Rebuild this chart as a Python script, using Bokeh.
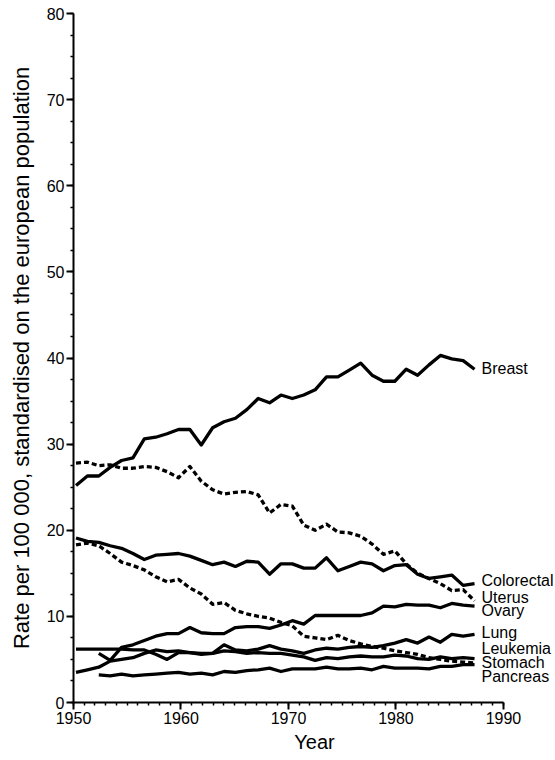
from bokeh.plotting import figure
from bokeh.models import Range1d, ColumnDataSource, LabelSet, FixedTicker, LinearAxis
from bokeh.core.properties import value
from bokeh.embed import file_html
from bokeh.resources import INLINE

# ---- data ----
years = list(range(1950, 1986))
years_1952 = list(range(1952, 1986))

breast = [25.2, 26.3, 26.3, 27.3, 28.1, 28.4, 30.6, 30.8, 31.2, 31.7,
          31.7, 29.9, 31.9, 32.6, 33.0, 34.0, 35.3, 34.8, 35.7, 35.3,
          35.7, 36.3, 37.8, 37.8, 38.6, 39.4, 38.0, 37.3, 37.3, 38.7,
          38.0, 39.2, 40.3, 39.9, 39.7, 38.7]
uterus = [27.8, 27.9, 27.5, 27.6, 27.2, 27.2, 27.4, 27.3, 26.8, 26.1,
          27.4, 25.7, 24.7, 24.2, 24.4, 24.5, 24.1, 22.0, 23.0, 22.8,
          20.6, 20.0, 20.7, 19.8, 19.7, 19.3, 18.4, 17.2, 17.6, 16.1,
          15.0, 14.4, 13.8, 13.0, 13.1, 11.8]
colorectal = [19.1, 18.7, 18.6, 18.2, 17.9, 17.3, 16.6, 17.1, 17.2, 17.3,
              17.0, 16.5, 16.0, 16.3, 15.8, 16.4, 16.3, 14.9, 16.1, 16.1,
              15.6, 15.6, 16.8, 15.3, 15.8, 16.3, 16.1, 15.3, 15.9, 16.0,
              14.9, 14.4, 14.6, 14.8, 13.6, 13.8]
stomach = [18.3, 18.5, 18.2, 17.3, 16.3, 15.9, 15.4, 14.6, 14.0, 14.3,
           13.3, 12.6, 11.4, 11.6, 10.7, 10.3, 10.0, 9.8, 9.3, 8.9,
           7.7, 7.5, 7.3, 7.8, 7.2, 6.8, 6.5, 6.3, 6.0, 5.8,
           5.6, 5.2, 5.0, 4.8, 4.7, 4.6]
lung = [3.5, 3.8, 4.1, 4.8, 5.0, 5.2, 5.7, 6.1, 5.9, 6.0,
        5.8, 5.6, 5.7, 6.7, 6.1, 6.0, 6.2, 6.6, 6.2, 6.0,
        5.7, 6.1, 6.3, 6.2, 6.4, 6.5, 6.4, 6.6, 6.9, 7.3,
        6.9, 7.6, 7.0, 7.9, 7.7, 7.9]
leukemia = [6.2, 6.2, 6.2, 6.2, 6.2, 6.1, 6.1, 5.6, 5.0, 5.8,
            5.8, 5.7, 5.7, 6.0, 5.9, 5.7, 5.8, 5.7, 5.7, 5.5,
            5.3, 4.9, 5.2, 5.1, 5.3, 5.4, 5.3, 5.3, 5.5, 5.4,
            5.1, 5.0, 5.3, 5.1, 5.2, 5.1]
ovary = [5.7, 4.9, 6.4, 6.7, 7.2, 7.7, 8.0, 8.0, 8.7, 8.1,
         8.0, 8.0, 8.7, 8.8, 8.8, 8.6, 9.0, 9.5, 9.1, 10.1,
         10.1, 10.1, 10.1, 10.1, 10.4, 11.2, 11.1, 11.4, 11.3, 11.3,
         11.0, 11.5, 11.3, 11.2]
pancreas = [3.2, 3.1, 3.3, 3.1, 3.2, 3.3, 3.4, 3.5, 3.3, 3.4,
            3.2, 3.6, 3.5, 3.7, 3.8, 4.0, 3.6, 3.9, 3.9, 3.9,
            4.1, 3.9, 3.9, 4.0, 3.8, 4.2, 4.0, 4.0, 4.0, 3.9,
            4.2, 4.2, 4.4, 4.4]

label_names = ["Breast", "Colorectal", "Uterus", "Ovary", "Lung",
               "Leukemia", "Stomach", "Pancreas"]
label_y = [38.8, 14.2, 12.2, 10.7, 8.1, 6.3, 4.7, 3.0]
x_ticks = [1950, 1960, 1970, 1980, 1990]
y_ticks = [0, 10, 20, 30, 40, 50, 60, 70, 80]

FONT = "Liberation Sans"

# The printed year axis of the original is drawn on a slightly different
# scale than the plotted series; a separate range reproduces that axis.
p = figure(width=555, height=760, x_range=Range1d(1949.78, 1992.11),
           y_range=Range1d(0, 80), output_backend="svg",
           toolbar_location=None, x_axis_location=None,
           min_border_left=73, min_border_right=0,
           min_border_top=13, min_border_bottom=58)
p.extra_x_ranges = {"year_axis": Range1d(1950, 1994.84)}
p.outline_line_color = None
p.grid.grid_line_color = None
p.background_fill_color = "white"

solid = dict(line_color="black", line_width=3.3, line_join="round")
dashed = dict(line_color="black", line_width=3.3, line_dash="5 3", line_join="round")

p.line(years, breast, **solid)
p.line(years, colorectal, **solid)
p.line(years, lung, **solid)
p.line(years, leukemia, **solid)
p.line(years_1952, ovary, **solid)
p.line(years_1952, pancreas, **solid)
p.line(years, uterus, **dashed)
p.line(years, stomach, **dashed)

src = ColumnDataSource(dict(x=[years[-1]] * len(label_names), y=label_y,
                            t=label_names))
p.add_layout(LabelSet(x="x", y="y", text="t", source=src, x_offset=7,
                      text_baseline="middle", text_font=value(FONT),
                      text_font_size="16px", text_color="black"))

xaxis = LinearAxis(x_range_name="year_axis", bounds=(1950, 1990),
                   ticker=FixedTicker(ticks=x_ticks, minor_ticks=list(range(1950, 1991))))
p.add_layout(xaxis, "below")
p.yaxis.ticker = FixedTicker(ticks=y_ticks, minor_ticks=[2.5 * i for i in range(33)])
for ax in (xaxis, p.yaxis[0]):
    ax.axis_line_width = 2
    ax.axis_line_color = "black"
    ax.major_tick_out = 7
    ax.major_tick_in = 0
    ax.minor_tick_out = 3
    ax.minor_tick_in = 0
    ax.major_tick_line_width = 2
    ax.minor_tick_line_width = 1.5
    ax.major_label_text_font = FONT
    ax.major_label_text_font_size = "16px"
    ax.major_label_text_color = "black"
    ax.axis_label_text_font = FONT
    ax.axis_label_text_font_style = "normal"
    ax.axis_label_text_color = "black"

xaxis.axis_label = "Year"
xaxis.axis_label_text_font_size = "20px"
xaxis.major_label_standoff = 2
xaxis.axis_label_standoff = 4
p.yaxis.axis_label = "Rate per 100 000, standardised on the european population"
p.yaxis.axis_label_text_font_size = "22px"
p.yaxis.major_label_standoff = 2
p.yaxis.axis_label_standoff = 10

open("out.html", "w").write(file_html(p, INLINE))
